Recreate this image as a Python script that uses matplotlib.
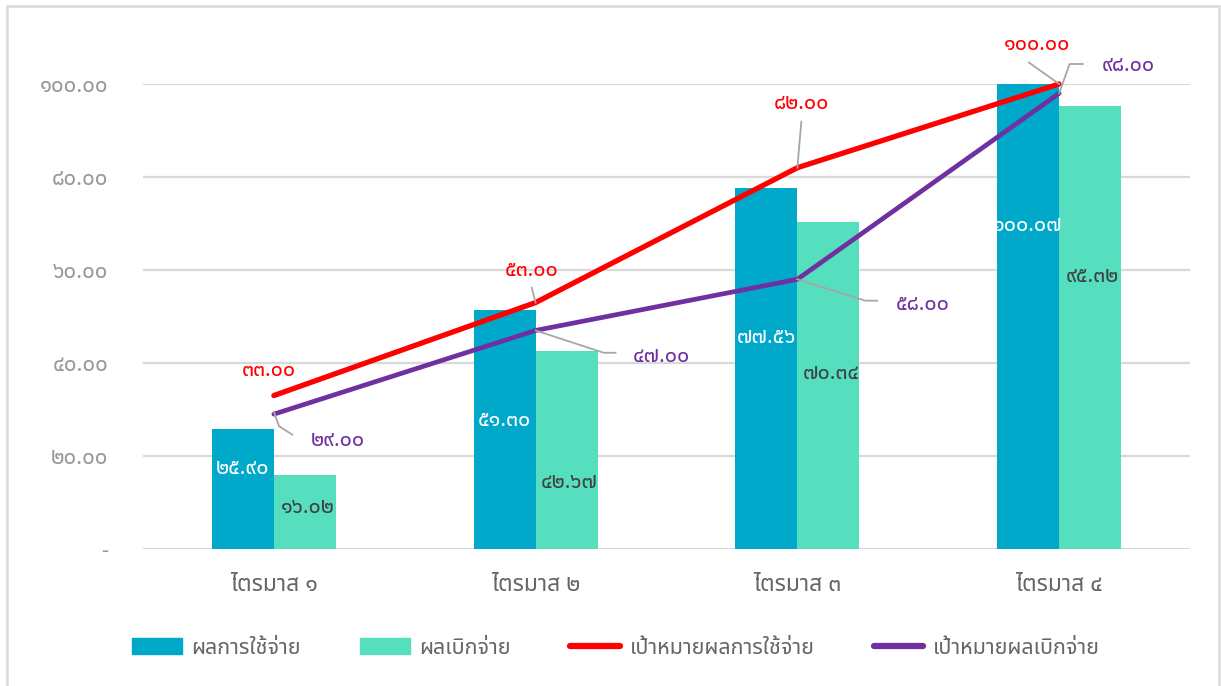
import matplotlib
matplotlib.use("Agg")
import matplotlib.pyplot as plt
import numpy as np
from matplotlib.patches import Rectangle
from matplotlib.lines import Line2D

plt.rcParams['font.family'] = ['Noto Sans Thai', 'DejaVu Sans']

# ---- data ----
categories = ["ไตรมาส ๑", "ไตรมาส ๒", "ไตรมาส ๓", "ไตรมาส ๔"]
spend_actual = [25.90, 51.30, 77.56, 100.07]        # ผลการใช้จ่าย
disburse_actual = [16.02, 42.67, 70.34, 95.32]      # ผลเบิกจ่าย
spend_target = [33.00, 53.00, 82.00, 100.00]        # เป้าหมายผลการใช้จ่าย
disburse_target = [29.00, 47.00, 58.00, 98.00]      # เป้าหมายผลเบิกจ่าย
series_names = ["ผลการใช้จ่าย", "ผลเบิกจ่าย", "เป้าหมายผลการใช้จ่าย", "เป้าหมายผลเบิกจ่าย"]
yticks = [0, 20, 40, 60, 80, 100]
ytick_labels = ["-", "๒๐.๐๐", "๔๐.๐๐", "๖๐.๐๐", "๘๐.๐๐", "๑๐๐.๐๐"]

# label placement (data units): y positions of in-bar labels and line-label offsets
spend_lbl_y = [17.4, 27.7, 45.4, 69.5]
disb_lbl_y = [9.0, 14.4, 37.8, 58.7]
st_lbl_dx = [-0.02, -0.015, 0.015, -0.085]
st_lbl_y = [38.3, 60.0, 95.7, 108.4]
dt_lbl_dx = [0.245, 0.48, 0.48, 0.265]
dt_lbl_y = [23.4, 41.3, 52.5, 103.9]

C_BLUE = "#00A8CA"
C_GREEN = "#55DFBE"
C_RED = "#FF0000"
C_PURPLE = "#7030A0"
C_GRID = "#D9D9D9"

THAI_DIGITS = str.maketrans("0123456789", "๐๑๒๓๔๕๖๗๘๙")
def th(v):
    return f"{v:.2f}".translate(THAI_DIGITS)

fig = plt.figure(figsize=(12.21, 6.86), dpi=100)
W, H = 1221, 686
ax = fig.add_axes([143 / W, 1 - 549 / H, (1190 - 143) / W, (549 - 84) / H])

x = np.arange(len(categories))
bw = 0.237
ax.bar(x - bw / 2, spend_actual, bw, color=C_BLUE, zorder=2, clip_on=False, label=series_names[0])
ax.bar(x + bw / 2, disburse_actual, bw, color=C_GREEN, zorder=2, clip_on=False, label=series_names[1])
ax.plot(x, spend_target, color=C_RED, lw=3.8, zorder=4, clip_on=False, solid_capstyle='round', label=series_names[2])
ax.plot(x, disburse_target, color=C_PURPLE, lw=3.4, zorder=3, clip_on=False, solid_capstyle='round', label=series_names[3])

ax.set_xlim(-0.5, len(categories) - 0.5)
ax.set_ylim(0, 100)
ax.set_yticks(yticks)
ax.set_yticklabels(ytick_labels, color="#999999", fontsize=16)
ax.set_xticks(x)
ax.set_xticklabels(categories, color="#666666", fontsize=16.5)
ax.tick_params(axis='y', length=0, pad=25)
ax.tick_params(axis='x', length=0, pad=17)
for s in ax.spines.values():
    s.set_visible(False)
ax.yaxis.grid(True, color=C_GRID, lw=1.6, zorder=0)
ax.set_axisbelow(True)

# bar labels
lblkw = dict(ha='center', va='center', fontsize=15.5, fontweight='bold', zorder=6, clip_on=False)
for i in range(len(categories)):
    ax.text(x[i] - bw / 2, spend_lbl_y[i], th(spend_actual[i]), color="white", **lblkw)
    ax.text(x[i] + bw / 2 + 0.01, disb_lbl_y[i], th(disburse_actual[i]), color="#404040", **lblkw)

# line labels with leader lines
lead = dict(color="#A6A6A6", lw=1.3, zorder=5, clip_on=False)
for i in range(len(categories)):
    lx, ly = x[i] + st_lbl_dx[i], st_lbl_y[i]
    ax.text(lx, ly, th(spend_target[i]), color=C_RED, **lblkw)
    if i > 0:
        ax.plot([x[i], lx - 0.03 if i == 3 else lx], [spend_target[i], ly - 3.8], **lead)
    dx, dy = x[i] + dt_lbl_dx[i], dt_lbl_y[i]
    ax.text(dx, dy, th(disburse_target[i]), color=C_PURPLE, **lblkw)
    if i == 0:
        pts_x = [x[i], x[i] + 0.02, x[i] + 0.07]
        pts_y = [disburse_target[i] + 0.5, 26.4, 24.6]
    elif i == 3:
        pts_x = [x[i], x[i] + 0.04, x[i] + 0.09]
        pts_y = [disburse_target[i], 104.3, 104.3]
    else:
        pts_x = [x[i], dx - 0.22, dx - 0.175]
        pts_y = [disburse_target[i], dy + 0.9, dy + 0.9]
    ax.plot(pts_x, pts_y, **lead)

# legend
handles = [Rectangle((0, 0), 1, 1, color=C_BLUE), Rectangle((0, 0), 1, 1, color=C_GREEN),
           Line2D([], [], color=C_RED, lw=4.5, solid_capstyle='round'),
           Line2D([], [], color=C_PURPLE, lw=4.5, solid_capstyle='round')]
fig.legend(handles, series_names, loc='center', bbox_to_anchor=(616 / W, 1 - 648 / H), ncol=4,
           frameon=False, fontsize=15.5, handlelength=2.3, handleheight=0.75, handletextpad=0.45,
           columnspacing=2.75, labelcolor="#666666")

# chart border
fig.add_artist(Rectangle((7 / W, -0.01), (1219 - 7) / W, 1 - 6 / H + 0.01, transform=fig.transFigure,
                         fill=False, edgecolor=C_GRID, lw=1.8))

fig.savefig("out.png", dpi=100)
